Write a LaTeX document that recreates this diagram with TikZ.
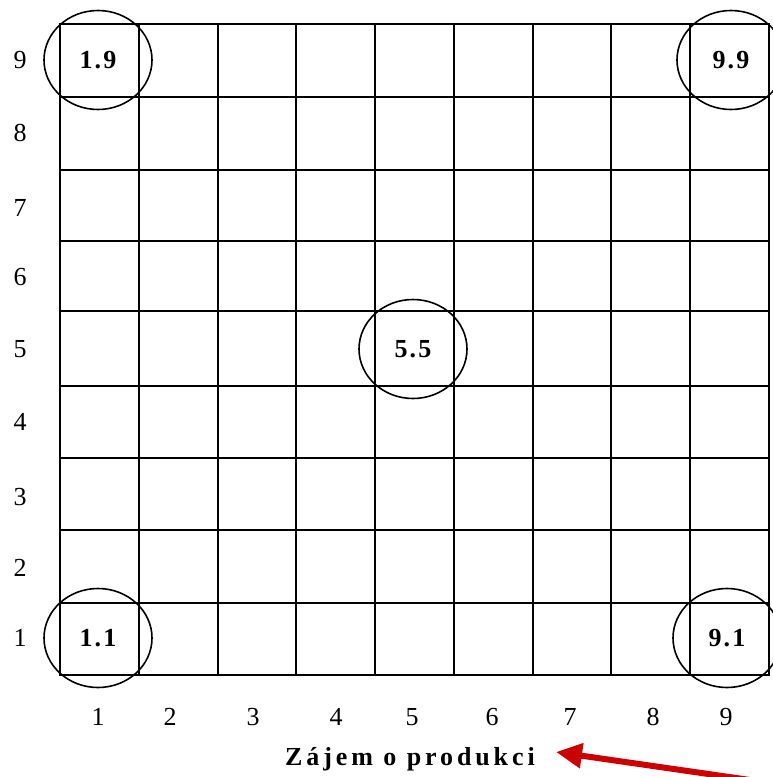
\documentclass[tikz,border=0pt]{standalone}
\usepackage{fontspec}
\setmainfont{Liberation Serif}
\newfontfamily\spacedfont[LetterSpace=15]{Liberation Serif}
\newfontfamily\cellfont[LetterSpace=8]{Liberation Serif}
\usetikzlibrary{arrows.meta, shapes.geometric}
\definecolor{hintred}{RGB}{204,0,0}
\tikzset{
  gridln/.style ={line width=1.7pt, line cap=rect},
  pick/.style   ={draw, ellipse, minimum width=108pt, minimum height=99pt, inner sep=0pt, line width=1.6pt,
                  font=\fontsize{26}{26}\selectfont\bfseries\cellfont},
  axlbl/.style  ={font=\fontsize{26}{26}\selectfont},
  ttl/.style    ={font=\fontsize{26}{26}\selectfont\bfseries\spacedfont},
  hint/.style   ={-{Triangle[length=26pt, width=24pt]}, line width=6pt, hintred},  % red pointer to the axis title
}

\begin{document}
\begin{tikzpicture}[x=1pt, y=-1pt]
  \useasboundingbox (0,0) rectangle (773,777);

  % GRID: 9 x 9 cells
  \foreach \x in {60,139,218,296,375,454,533,611,690,769}
    \draw[gridln] (\x,24) -- (\x,675);
  \foreach \y in {24,97,170,241,311,386,458,530,603,675}
    \draw[gridln] (60,\y) -- (769,\y);

  % AXES: numbers left and below
  \foreach \i/\y in {9/60,8/133,7/208,6/277,5/349,4/422,3/497,2/568,1/638}
    \node[axlbl] (yl\i) at (20,\y) {\i};
  \foreach \i/\x in {1/98,2/170,3/253,4/336,5/412,6/492,7/570,8/653,9/726}
    \node[axlbl] (xl\i) at (\x,717) {\i};

  % picked cells
  \node[pick] (c19) at (98,60)   {1.9};
  \node[pick] (c99) at (731,60)  {9.9};
  \node[pick] (c55) at (413,349) {5.5};
  \node[pick] (c11) at (98,638)  {1.1};
  \node[pick] (c91) at (727,638) {9.1};

  % TITLE + arrow
  \node[ttl] (ttl) at (410,759) {Zájem o produkci};
  \coordinate (tip)  at (556,752);
  \coordinate (tail) at (750,780);
  \draw[hint] (tail) -- (tip);
\end{tikzpicture}
\end{document}
